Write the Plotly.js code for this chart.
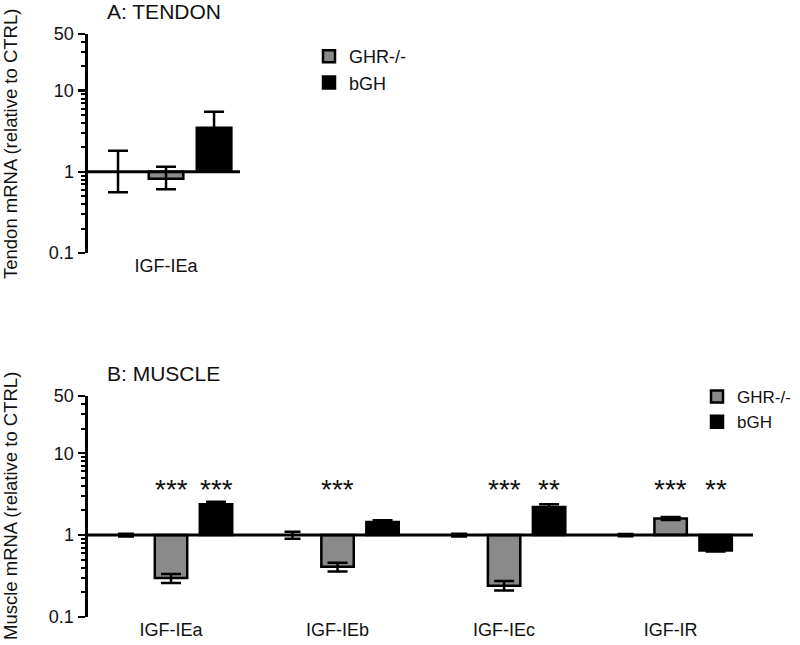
<!DOCTYPE html>
<html><head><meta charset="utf-8">
<script src="https://cdn.plot.ly/plotly-3.0.1.min.js"></script>
<style>body{margin:0;background:#fff;} #chart{width:800px;height:645px;}</style>
</head><body><div id="chart"></div>
<script>
// ---- Data ----
const tendonCategories = ['IGF-IEa'];
const tendonCtrl = [1.0];
const tendonCtrlHi = [1.82];
const tendonCtrlLo = [0.56];
const tendonGHR = [0.82];
const tendonGHRHi = [1.16];
const tendonGHRLo = [0.61];
const tendonBGH = [3.5];
const tendonBGHHi = [5.5];
const tendonBGHLo = [2.2];

const muscleCategories = ['IGF-IEa', 'IGF-IEb', 'IGF-IEc', 'IGF-IR'];
const muscleCtrl = [1.0, 1.0, 1.0, 1.0];
const muscleCtrlHi = [1.04, 1.10, 1.04, 1.03];
const muscleCtrlLo = [0.96, 0.90, 0.96, 0.97];
const muscleGHR = [0.30, 0.41, 0.24, 1.60];
const muscleGHRHi = [0.335, 0.46, 0.275, 1.67];
const muscleGHRLo = [0.26, 0.36, 0.21, 1.53];
const muscleBGH = [2.39, 1.45, 2.21, 0.65];
const muscleBGHHi = [2.55, 1.52, 2.39, 0.68];
const muscleBGHLo = [2.24, 1.38, 2.05, 0.63];
const muscleSigGHR = ['***', '***', '***', '***'];
const muscleSigBGH = ['***', '', '**', '**'];

const seriesNames = ['CTRL', 'GHR-/-', 'bGH'];
const yTickVals = [0.1, 1, 10, 50];
const yTickText = ['0.1', '1', '10', '50'];

// ---- Layout helpers ----
const groupStep = 3.7;
const seriesOffset = [-1, 0, 1];
const starLevel = 3.6;
const FONT = 'Liberation Sans, Arial, Helvetica, sans-serif';
const INK = '#111';

function positions(n, off) { return Array.from({length: n}, (_, i) => i * groupStep + off); }

function barTrace(vals, hi, lo, si, fill, lineW, xa, ya, legend, show, capW) {
  return {
    type: 'bar', name: seriesNames[si], legend: legend, showlegend: show,
    xaxis: xa, yaxis: ya,
    x: positions(vals.length, seriesOffset[si]),
    y: vals.map(v => v - 1),
    base: vals.map(() => 1),
    width: 0.72,
    marker: {color: fill, line: {color: '#000', width: lineW}},
    error_y: {type: 'data', symmetric: false,
      array: hi.map((h, i) => h - vals[i]),
      arrayminus: lo.map((l, i) => vals[i] - l),
      color: '#000', thickness: 2.5, width: capW},
    hoverinfo: 'skip'
  };
}

const GRAY = '#8a8a8a';
const topRange = [-1.625, 1.54];
const botRange = [-1.844, 12.93];

const traces = [
  barTrace(tendonCtrl, tendonCtrlHi, tendonCtrlLo, 0, 'rgba(0,0,0,0)', 0, 'x', 'y', 'legend', false, 10),
  barTrace(tendonGHR, tendonGHRHi, tendonGHRLo, 1, GRAY, 2.5, 'x', 'y', 'legend', true, 10),
  barTrace(tendonBGH, tendonBGHHi, tendonBGHLo, 2, '#000', 2.5, 'x', 'y', 'legend', true, 10),
  {type: 'scatter', mode: 'lines', x: topRange, y: [1, 1], xaxis: 'x', yaxis: 'y',
   line: {color: '#000', width: 3}, showlegend: false, hoverinfo: 'skip'},
  barTrace(muscleCtrl, muscleCtrlHi, muscleCtrlLo, 0, 'rgba(0,0,0,0)', 0, 'x2', 'y2', 'legend2', false, 8),
  barTrace(muscleGHR, muscleGHRHi, muscleGHRLo, 1, GRAY, 2.5, 'x2', 'y2', 'legend2', true, 10),
  barTrace(muscleBGH, muscleBGHHi, muscleBGHLo, 2, '#000', 2.5, 'x2', 'y2', 'legend2', true, 10),
  {type: 'scatter', mode: 'lines', x: botRange, y: [1, 1], xaxis: 'x2', yaxis: 'y2',
   line: {color: '#000', width: 3}, showlegend: false, hoverinfo: 'skip'}
];

function yAxis(domain) {
  return {
    domain: domain, type: 'log', range: [-1, Math.log10(50)],
    tickmode: 'array', tickvals: yTickVals, ticktext: yTickText,
    showline: true, linecolor: '#000', linewidth: 3.5,
    ticks: 'outside', ticklen: 7, tickwidth: 2.5, tickcolor: '#000',
    minor: {ticks: 'outside', ticklen: 4, tickwidth: 2, tickcolor: '#000', dtick: 'D1'},
    showgrid: false, zeroline: false,
    tickfont: {family: FONT, size: 18, color: INK}
  };
}
function xAxis(domain, range, cats, anchor) {
  return {
    domain: domain, range: range, anchor: anchor,
    tickmode: 'array', tickvals: positions(cats.length, 0), ticktext: cats,
    ticks: '', showline: false, showgrid: false, zeroline: false,
    tickfont: {family: FONT, size: 18, color: INK}
  };
}

const annotations = [
  {text: 'A: TENDON', xref: 'paper', yref: 'paper', x: 105 / 800, y: 1 - 12 / 645,
   xanchor: 'left', yanchor: 'middle', showarrow: false, font: {family: FONT, size: 21, color: INK}},
  {text: 'B: MUSCLE', xref: 'paper', yref: 'paper', x: 105 / 800, y: 1 - 373 / 645,
   xanchor: 'left', yanchor: 'middle', showarrow: false, font: {family: FONT, size: 21, color: INK}},
  {text: 'Tendon mRNA (relative to CTRL)', xref: 'paper', yref: 'paper', x: 10 / 800, y: 1 - 144 / 645,
   textangle: -90, xanchor: 'center', yanchor: 'middle', showarrow: false, font: {family: FONT, size: 18.5, color: INK}},
  {text: 'Muscle mRNA (relative to CTRL)', xref: 'paper', yref: 'paper', x: 10 / 800, y: 1 - 506 / 645,
   textangle: -90, xanchor: 'center', yanchor: 'middle', showarrow: false, font: {family: FONT, size: 18.5, color: INK}}
];
muscleCategories.forEach((c, i) => {
  [[muscleSigGHR[i], 1], [muscleSigBGH[i], 2]].forEach(([s, si]) => {
    if (!s) return;
    annotations.push({text: s, xref: 'x2', yref: 'y2', x: i * groupStep + seriesOffset[si],
      y: Math.log10(starLevel), xanchor: 'center', yanchor: 'middle', showarrow: false,
      font: {family: FONT, size: 28, color: INK}});
  });
});

const layout = {
  width: 800, height: 645,
  margin: {l: 0, r: 0, t: 0, b: 0},
  paper_bgcolor: '#fff', plot_bgcolor: '#fff',
  barmode: 'overlay',
  showlegend: true,
  xaxis: xAxis([88 / 800, 240 / 800], topRange, tendonCategories, 'y'),
  yaxis: yAxis([1 - 253 / 645, 1 - 34 / 645]),
  xaxis2: xAxis([88 / 800, 753 / 800], botRange, muscleCategories, 'y2'),
  yaxis2: yAxis([1 - 617 / 645, 1 - 396 / 645]),
  legend: {x: 309 / 800, y: 1 - 38 / 645, xanchor: 'left', yanchor: 'top', traceorder: 'normal',
    font: {family: FONT, size: 18, color: INK}, bgcolor: 'rgba(0,0,0,0)'},
  legend2: {x: 697 / 800, y: 1 - 379 / 645, xanchor: 'left', yanchor: 'top', traceorder: 'normal',
    font: {family: FONT, size: 17, color: INK}, bgcolor: 'rgba(0,0,0,0)'},
  annotations: annotations,
  font: {family: FONT}
};

Plotly.newPlot('chart', traces, layout, {staticPlot: true, displayModeBar: false});
</script>
</body></html>
